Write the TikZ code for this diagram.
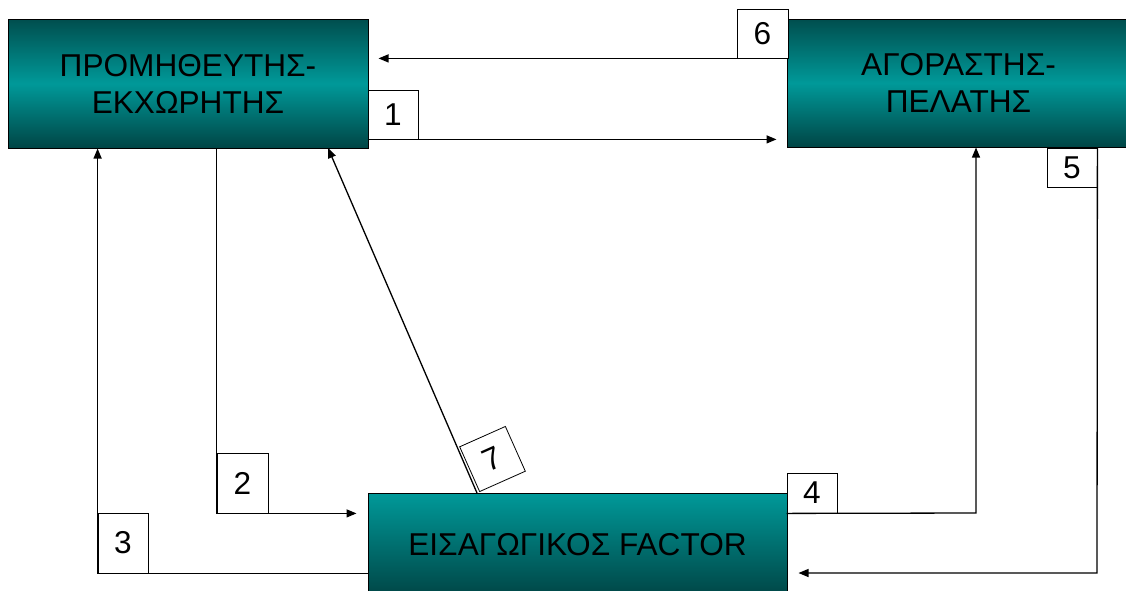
\documentclass[tikz,border=0pt]{standalone}
\usepackage{fontspec}
\setmainfont{Liberation Sans}
\usetikzlibrary{arrows.meta,calc}
\definecolor{tealtop}{HTML}{004E4E}
\definecolor{tealmid}{HTML}{009999}
\definecolor{tealbot}{HTML}{004545}
\begin{document}
\begin{tikzpicture}[x=1pt,y=-1pt,
  bigbox/.style={draw=black,line width=1pt,inner sep=0pt,align=center,font=\fontsize{31.6}{37}\selectfont},
  topbox/.style={bigbox,top color=tealtop,bottom color=tealbot,middle color=tealmid},
  numbox/.style={draw=black,line width=0.8pt,fill=white,inner sep=0pt,font=\fontsize{31.6}{37}\selectfont},
  arr/.style={line width=1.3pt,-{Triangle[length=10pt,width=8pt]}},
]
\useasboundingbox (0,0) rectangle (1126,590);
\clip (0,0) rectangle (1126,590);
% main boxes
\node[topbox,minimum width=360pt,minimum height=129pt] (A) at (188,83.5) {ΠΡΟΜΗΘΕΥΤΗΣ-\\ΕΚΧΩΡΗΤΗΣ};
\node[topbox,minimum width=343pt,minimum height=128pt] (B) at (958.5,83) {ΑΓΟΡΑΣΤΗΣ-\\ΠΕΛΑΤΗΣ};
\node[bigbox,top color=tealmid,bottom color=tealbot,minimum width=419pt,minimum height=104pt] (C) at (577.5,545) {ΕΙΣΑΓΩΓΙΚΟΣ FACTOR};
% number boxes
\node[numbox,minimum width=50pt,minimum height=49pt] (L1) at (393,114.5) {1};
\node[numbox,minimum width=51pt,minimum height=49pt] (L6) at (762.5,33.5) {6};
\node[numbox,minimum width=50pt,minimum height=39pt] (L5) at (1072,167.5) {5};
\node[numbox,minimum width=50pt,minimum height=40pt] (L4) at (812,493) {4};
\node[numbox,minimum width=51pt,minimum height=60pt] (L2) at (242.5,483) {2};
\node[numbox,minimum width=50pt,minimum height=60pt] (L3) at (123,543) {3};
\node[numbox,minimum width=50pt,minimum height=49pt,rotate=24] (L7) at (492.5,459) {7};
% helper coordinates
\coordinate (c5) at (1097,573);
\coordinate (c4) at (976,513);
\coordinate (p7) at (477,493);
\coordinate (t7) at (328,148);
% connectors
\draw[arr,shorten >=10pt] (L1.south west) -- (L1.south west -| B.west);
\draw[arr,shorten >=10pt] (L6.south east) -- (L6.south east -| A.east);
\draw[arr] (L5.north east) -- (c5) -- ([xshift=11pt]c5 -| C.east);
\draw[arr] (L4.south west) -- (c4) -- (c4 |- B.south);
\draw[arr] (L2.west |- A.south) -- (L2.south west) -- ([xshift=-11pt]L2.south west -| C.west);
\draw[arr] (C.west |- L3.south west) -- (L3.south west) -- (L3.south west |- A.south);
\draw[arr] (p7) -- (t7);
\end{tikzpicture}
\end{document}
